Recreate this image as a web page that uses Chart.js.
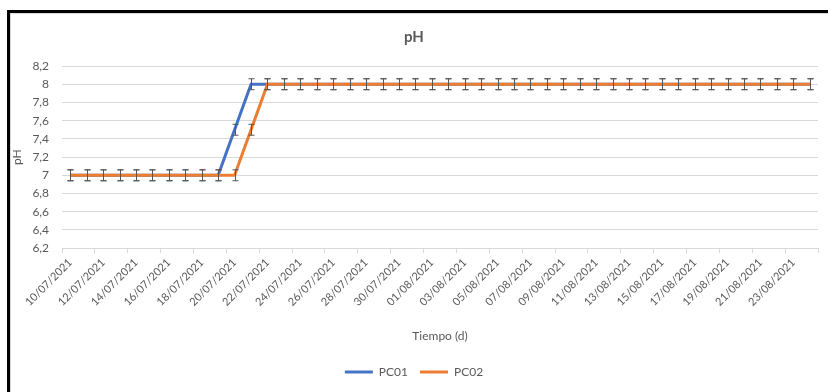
<!DOCTYPE html>
<html>
<head>
<meta charset="utf-8">
<script src="https://cdn.jsdelivr.net/npm/chart.js@4"></script>
<style>
  html, body { margin: 0; padding: 0; background: #fff; }
  #wrap { position: relative; width: 828px; height: 392px; }
  #frame {
    position: absolute; left: 7px; top: 10px; right: -10px; bottom: -10px;
    border-top: 3px solid #000; border-left: 3px solid #000;
    box-shadow: inset 1px 1px 0 #d8d8d8;
    pointer-events: none;
  }
</style>
</head>
<body>
<div id="wrap">
  <canvas id="phChart" width="828" height="392"></canvas>
  <div id="frame"></div>
</div>
<script>
// fechas de muestreo (un punto por dia)
var dates = [
  "10/07/2021", "11/07/2021", "12/07/2021", "13/07/2021", "14/07/2021",
  "15/07/2021", "16/07/2021", "17/07/2021", "18/07/2021", "19/07/2021",
  "20/07/2021", "21/07/2021", "22/07/2021", "23/07/2021", "24/07/2021",
  "25/07/2021", "26/07/2021", "27/07/2021", "28/07/2021", "29/07/2021",
  "30/07/2021", "31/07/2021", "01/08/2021", "02/08/2021", "03/08/2021",
  "04/08/2021", "05/08/2021", "06/08/2021", "07/08/2021", "08/08/2021",
  "09/08/2021", "10/08/2021", "11/08/2021", "12/08/2021", "13/08/2021",
  "14/08/2021", "15/08/2021", "16/08/2021", "17/08/2021", "18/08/2021",
  "19/08/2021", "20/08/2021", "21/08/2021", "22/08/2021", "23/08/2021",
  "24/08/2021",
];

var pc01 = [
  7, 7, 7, 7, 7, 7, 7, 7, 7, 7,
  7.5, 8, 8, 8, 8, 8, 8, 8, 8, 8,
  8, 8, 8, 8, 8, 8, 8, 8, 8, 8,
  8, 8, 8, 8, 8, 8, 8, 8, 8, 8,
  8, 8, 8, 8, 8, 8,
];

var pc02 = [
  7, 7, 7, 7, 7, 7, 7, 7, 7, 7,
  7, 7.5, 8, 8, 8, 8, 8, 8, 8, 8,
  8, 8, 8, 8, 8, 8, 8, 8, 8, 8,
  8, 8, 8, 8, 8, 8, 8, 8, 8, 8,
  8, 8, 8, 8, 8, 8,
];

var errorBar = 0.06; // barra de error fija (+/-)

var yTicks = { min: 6.2, max: 8.2, step: 0.2 };

var fontFamily = "Lato, 'Liberation Sans', sans-serif";
var textColor = "#595959";
var gridColor = "#d9d9d9";

// dibuja las barras de error encima de las lineas
const errorBarsPlugin = {
  id: "errorBars",
  afterDatasetsDraw(chart) {
    const ctx = chart.ctx;
    const yScale = chart.scales.y;
    ctx.save();
    ctx.strokeStyle = "#555555";
    ctx.lineWidth = 1;
    chart.data.datasets.forEach((ds, di) => {
      const meta = chart.getDatasetMeta(di);
      meta.data.forEach((pt, i) => {
        const v = ds.data[i];
        const x = Math.round(pt.x) + 0.5;
        const top = yScale.getPixelForValue(v + errorBar);
        const bot = yScale.getPixelForValue(v - errorBar);
        ctx.beginPath();
        ctx.moveTo(x, top);
        ctx.lineTo(x, bot);
        ctx.moveTo(x - 3, top);
        ctx.lineTo(x + 3, top);
        ctx.moveTo(x - 3, bot);
        ctx.lineTo(x + 3, bot);
        ctx.stroke();
      });
    });
    ctx.restore();
  },
};

const config = {
  type: "line",
  data: {
    labels: dates,
    datasets: [
      {
        label: "PC01",
        data: pc01,
        borderColor: "#4472C4",
        backgroundColor: "#4472C4",
        borderWidth: 3,
        pointRadius: 0,
        order: 1,
      },
      {
        label: "PC02",
        data: pc02,
        borderColor: "#ED7D31",
        backgroundColor: "#ED7D31",
        borderWidth: 3,
        pointRadius: 0,
        order: 0, // naranja encima del azul
      },
    ],
  },
  options: {
    responsive: false,
    animation: false,
    layout: {
      padding: { top: 12, left: 10, right: 10, bottom: 4 },
    },
    plugins: {
      title: {
        display: true,
        text: "pH",
        color: textColor,
        font: { family: fontFamily, size: 15, weight: "bold" },
        padding: { top: 16, bottom: 20 },
      },
      legend: {
        position: "bottom",
        labels: {
          color: textColor,
          font: { family: fontFamily, size: 12 },
          usePointStyle: true,
          pointStyle: "line",
          pointStyleWidth: 28,
          boxHeight: 3,
          padding: 12,
          sort: (a, b) => a.datasetIndex - b.datasetIndex,
        },
      },
      tooltip: { enabled: false },
    },
    scales: {
      x: {
        offset: true,
        grid: {
          offset: true,
          drawOnChartArea: false,
          drawTicks: true,
          tickLength: 5,
          color: (c) => (c.index === undefined || c.index % 2 === 0 ? gridColor : "rgba(0,0,0,0)"),
        },
        border: { color: gridColor },
        ticks: {
          autoSkip: false,
          maxRotation: 45,
          minRotation: 45,
          color: textColor,
          font: { family: fontFamily, size: 11 },
          callback: function (val, idx) {
            return idx % 2 === 0 ? this.getLabelForValue(val) : "";
          },
        },
        title: {
          display: true,
          text: "Tiempo (d)",
          color: textColor,
          font: { family: fontFamily, size: 12 },
          padding: { top: 17, bottom: 11 },
        },
      },
      y: {
        min: yTicks.min,
        max: yTicks.max,
        grid: { color: gridColor, drawTicks: false },
        border: { display: false },
        ticks: {
          stepSize: yTicks.step,
          padding: 13,
          color: textColor,
          font: { family: fontFamily, size: 12 },
          callback: (v) => String(Math.round(v * 10) / 10).replace(".", ","),
        },
        title: {
          display: true,
          text: "pH",
          color: textColor,
          font: { family: fontFamily, size: 12 },
          padding: { top: 0, bottom: -5 },
        },
      },
    },
  },
  plugins: [errorBarsPlugin],
};

new Chart(document.getElementById("phChart"), config);
</script>
</body>
</html>
